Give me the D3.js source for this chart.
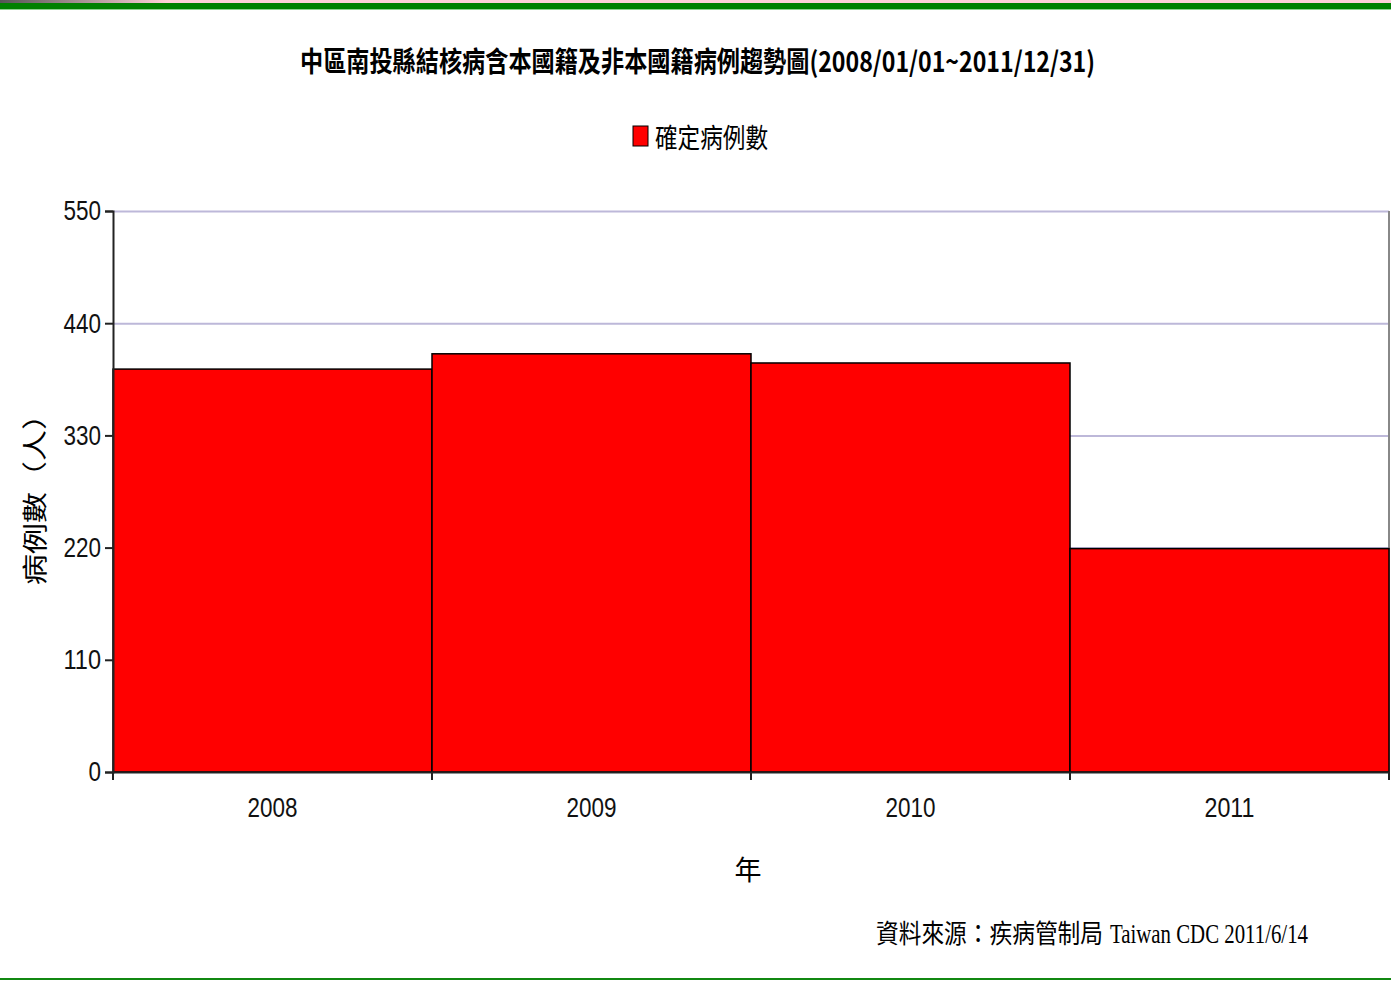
<!DOCTYPE html>
<html>
<head>
<meta charset="utf-8">
<script src="https://cdn.jsdelivr.net/npm/d3@7"></script>
<style>
  body { margin: 0; background: #fff; }
  svg { display: block; }
  .num { font-family: "Liberation Sans Narrow", "Liberation Sans", Arial, sans-serif; }
  .cjk { font-family: "Noto Sans CJK TC", "Noto Sans CJK SC", sans-serif; }
  .serif { font-family: "Liberation Serif", "DejaVu Serif", serif; }
</style>
</head>
<body>
<div id="chart"></div>
<script>
// chart data
var years = ["2008", "2009", "2010", "2011"];
var cases = [395, 410, 401, 219];
var yTicks = [0, 110, 220, 330, 440, 550];

var W = 1391, H = 981;
var plot = {left: 113, right: 1389, top: 211, bottom: 772};

var svg = d3.select("#chart").append("svg")
    .attr("width", W).attr("height", H);

// page decoration: top strip and green bands
var grad = svg.append("defs").append("linearGradient").attr("id", "corner");
grad.append("stop").attr("offset", "0%").attr("stop-color", "#555");
grad.append("stop").attr("offset", "12%").attr("stop-color", "#ffd0d8");
grad.append("stop").attr("offset", "100%").attr("stop-color", "#ffd0d8");
svg.append("rect").attr("x", 0).attr("y", 0).attr("width", W).attr("height", 3).attr("fill", "url(#corner)");
svg.append("rect").attr("x", 0).attr("y", 3).attr("width", W).attr("height", 6).attr("fill", "#008000");
svg.append("rect").attr("x", 0).attr("y", 9).attr("width", W).attr("height", 1).attr("fill", "#8fd08f");
svg.append("rect").attr("x", 0).attr("y", 978).attr("width", W).attr("height", 2).attr("fill", "#118811");

// scales
var x = d3.scaleBand().domain(years).range([plot.left, plot.right]).padding(0);
var y = d3.scaleLinear().domain([0, 550]).range([plot.bottom, plot.top]);

// gridlines
svg.append("g")
   .attr("transform", "translate(" + plot.left + ",0)")
   .call(d3.axisLeft(y).tickValues(yTicks.slice(1)).tickSize(-(plot.right - plot.left)).tickFormat(""))
   .call(function(g) {
     g.select(".domain").remove();
     g.selectAll("line").attr("stroke", "#bdb8d9").attr("stroke-width", 2);
   });

// right frame
svg.append("line")
   .attr("x1", plot.right).attr("x2", plot.right)
   .attr("y1", plot.top).attr("y2", plot.bottom)
   .attr("stroke", "#888").attr("stroke-width", 2);

// bars
svg.selectAll(".bar")
   .data(years)
   .enter()
   .append("rect")
   .attr("class", "bar")
   .attr("x", function(d) { return x(d); })
   .attr("width", x.bandwidth())
   .attr("y", function(d, i) { return y(cases[i]); })
   .attr("height", function(d, i) { return plot.bottom - y(cases[i]); })
   .attr("fill", "#ff0000")
   .attr("stroke", "#000")
   .attr("stroke-width", 1.5);

// y axis
var yAxis = svg.append("g")
   .attr("transform", "translate(" + plot.left + ",0)")
   .call(d3.axisLeft(y).tickValues(yTicks).tickSize(8).tickPadding(4).tickFormat(d3.format("d")));
yAxis.select(".domain").attr("stroke", "#222").attr("stroke-width", 2);
yAxis.selectAll("line").attr("stroke", "#222").attr("stroke-width", 2);
yAxis.selectAll("text")
   .attr("class", "num").attr("font-size", 28).attr("fill", "#111")
   .attr("lengthAdjust", "spacingAndGlyphs")
   .attr("textLength", function(d) { return String(d).length * 12.5; });

// x axis
var xAxis = svg.append("g")
   .attr("transform", "translate(0," + plot.bottom + ")")
   .call(d3.axisBottom(x).tickSize(0).tickPadding(25));
xAxis.select(".domain").attr("stroke", "#222").attr("stroke-width", 2);
xAxis.selectAll("text")
   .attr("class", "num").attr("font-size", 28).attr("fill", "#111")
   .attr("lengthAdjust", "spacingAndGlyphs").attr("textLength", 50);
// boundary ticks at band edges
xAxis.selectAll(".edge")
   .data(years.map(function(d) { return x(d); }).concat([plot.right]))
   .enter().append("line")
   .attr("class", "edge")
   .attr("x1", function(d) { return d; }).attr("x2", function(d) { return d; })
   .attr("y1", 0).attr("y2", 8)
   .attr("stroke", "#222").attr("stroke-width", 2);

// title
svg.append("text")
   .attr("class", "cjk")
   .attr("x", 300).attr("y", 72)
   .attr("textLength", 795).attr("lengthAdjust", "spacingAndGlyphs")
   .attr("font-size", 28).attr("font-weight", "bold").attr("fill", "#000")
   .text("中區南投縣結核病含本國籍及非本國籍病例趨勢圖(2008/01/01~2011/12/31)");

// legend
svg.append("rect")
   .attr("x", 633).attr("y", 126).attr("width", 15).attr("height", 20)
   .attr("fill", "#ff0000").attr("stroke", "#000").attr("stroke-width", 1);
svg.append("text")
   .attr("class", "cjk")
   .attr("x", 655).attr("y", 148)
   .attr("textLength", 113).attr("lengthAdjust", "spacingAndGlyphs")
   .attr("font-size", 27).attr("fill", "#000")
   .text("確定病例數");

// axis titles
svg.append("text")
   .attr("class", "cjk")
   .attr("x", 748).attr("y", 880)
   .attr("text-anchor", "middle")
   .attr("font-size", 27).attr("fill", "#000")
   .text("年");
svg.append("text")
   .attr("class", "cjk")
   .attr("transform", "translate(44,492) rotate(-90)")
   .attr("text-anchor", "middle")
   .attr("textLength", 186).attr("lengthAdjust", "spacingAndGlyphs")
   .attr("font-size", 25).attr("fill", "#000")
   .text("病例數（人）");

// source note
svg.append("text")
   .attr("class", "cjk")
   .attr("x", 876).attr("y", 943)
   .attr("textLength", 227).attr("lengthAdjust", "spacingAndGlyphs")
   .attr("font-size", 26).attr("fill", "#000")
   .text("資料來源：疾病管制局");
svg.append("text")
   .attr("class", "serif")
   .attr("x", 1110).attr("y", 943)
   .attr("textLength", 198).attr("lengthAdjust", "spacingAndGlyphs")
   .attr("font-size", 28).attr("fill", "#000")
   .text("Taiwan CDC 2011/6/14");
</script>
</body>
</html>
